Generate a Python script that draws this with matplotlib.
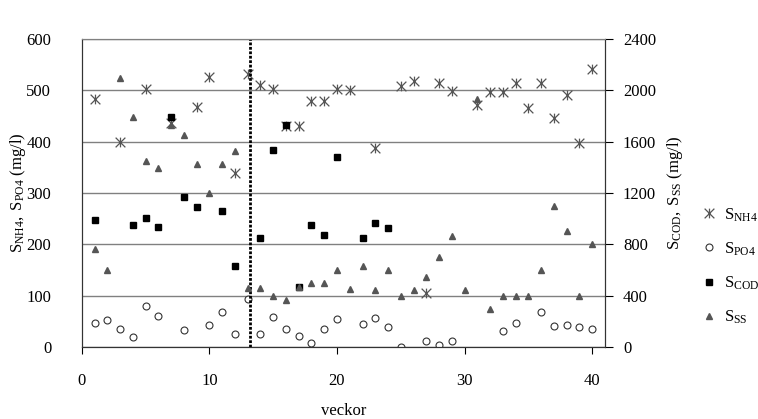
import numpy as np
import matplotlib
matplotlib.use("Agg")
import matplotlib.pyplot as plt
from matplotlib.path import Path

plt.rcParams['font.family'] = ['Liberation Serif', 'DejaVu Serif']
plt.rcParams['mathtext.fontset'] = 'custom'
plt.rcParams['mathtext.rm'] = 'Liberation Serif'
plt.rcParams['mathtext.it'] = 'Liberation Serif:italic'

# left axis (mg/l)
nh4_weeks = [1, 3, 5, 7, 9, 10, 12, 13, 14, 15, 16, 17, 18, 19, 20, 21, 23, 25, 26,
             27, 28, 29, 31, 32, 33, 34, 35, 36, 37, 38, 39, 40]
nh4_vals = [483, 400, 502, 437, 468, 525, 338, 531, 511, 503, 430, 430, 479, 479, 503,
            501, 388, 508, 519, 106, 514, 499, 471, 497, 497, 515, 465, 515, 446, 491,
            397, 542]

po4_weeks = [1, 2, 3, 4, 5, 6, 8, 10, 11, 12, 13, 14, 15, 16, 17, 18, 19, 20, 22, 23,
             24, 25, 27, 28, 29, 33, 34, 36, 37, 38, 39, 40]
po4_vals = [47, 53, 34, 19, 80, 61, 33, 43, 68, 25, 94, 25, 59, 35, 21, 8, 35, 55, 44,
            56, 39, 0, 12, 4, 12, 32, 46, 68, 40, 42, 39, 34]

# right axis (mg/l)
cod_weeks = [1, 4, 5, 6, 7, 8, 9, 11, 12, 14, 15, 16, 17, 18, 19, 20, 22, 23, 24]
cod_vals = [989, 951, 1003, 935, 1790, 1171, 1091, 1062, 631, 847, 1532, 1730, 468,
            951, 875, 1481, 849, 969, 930]

ss_weeks = list(range(1, 41))
ss_vals = [766, 600, 2096, 1795, 1447, 1395, 1730, 1649, 1429, 1203, 1429, 1530, 462,
           462, 400, 364, 468, 499, 499, 597, 452, 631, 447, 600, 400, 447, 545, 700,
           868, 444, 1932, 299, 400, 400, 400, 600, 1101, 901, 400, 800]

split_week = 13.2

# asterisk marker: vertical bar + X
star = Path([(0, -1), (0, 1), (-1, -1), (1, 1), (-1, 1), (1, -1)],
            [Path.MOVETO, Path.LINETO, Path.MOVETO, Path.LINETO, Path.MOVETO, Path.LINETO])

fig = plt.figure(figsize=(7.58, 4.19), dpi=100)
ax = fig.add_axes([0.108, 0.172, 0.69, 0.735])
ax2 = ax.twinx()

h1, = ax.plot(nh4_weeks, nh4_vals, ls='none', marker=star, ms=7, mec='#555555',
              mfc='none', mew=0.9, label=r'$\mathrm{S_{NH4}}$')
h2, = ax.plot(po4_weeks, po4_vals, ls='none', marker='o', ms=5, mec='#333333',
              mfc='white', mew=0.8, label=r'$\mathrm{S_{PO4}}$')
h3, = ax2.plot(cod_weeks, cod_vals, ls='none', marker='s', ms=4.2, color='black',
               label=r'$\mathrm{S_{COD}}$')
h4, = ax2.plot(ss_weeks, ss_vals, ls='none', marker='^', ms=4.8, color='#555555',
               label=r'$\mathrm{S_{SS}}$')

ax.axvline(split_week, color='black', lw=2, ls=(0, (1, 0.6)), zorder=5)

ax.set_xlim(0, 41)
ax.set_ylim(0, 600)
ax2.set_ylim(0, 2400)
ax.set_xticks([0, 10, 20, 30, 40])
ax.set_yticks(range(0, 601, 100))
ax2.set_yticks(range(0, 2401, 400))

ax.yaxis.grid(True, color='#808080', lw=1)
ax.set_axisbelow(True)

ax.tick_params(axis='y', length=0, pad=22, labelsize=12)
ax.tick_params(axis='x', direction='out', length=5, pad=14, labelsize=12)
ax2.tick_params(axis='y', direction='out', length=6, pad=7, labelsize=12)

for a in (ax, ax2):
    a.spines['top'].set_color('#808080')
    a.spines['left'].set_color('#333333')
    a.spines['right'].set_color('#333333')
    a.spines['bottom'].set_color('#333333')

ax.set_xlabel('veckor', fontsize=12, labelpad=10)
ax.set_ylabel(r'$\mathrm{S_{NH4},\ S_{PO4}}$ (mg/l)', fontsize=12, labelpad=-1)
ax2.set_ylabel(r'$\mathrm{S_{COD},\ S_{SS}}$ (mg/l)', fontsize=12, labelpad=6)

fig.legend(handles=[h1, h2, h3, h4], loc='center left', bbox_to_anchor=(0.915, 0.365),
           frameon=False, fontsize=12, handlelength=0.8, handletextpad=0.5,
           labelspacing=1.0, borderpad=0)

fig.savefig('out.png', dpi=100)
